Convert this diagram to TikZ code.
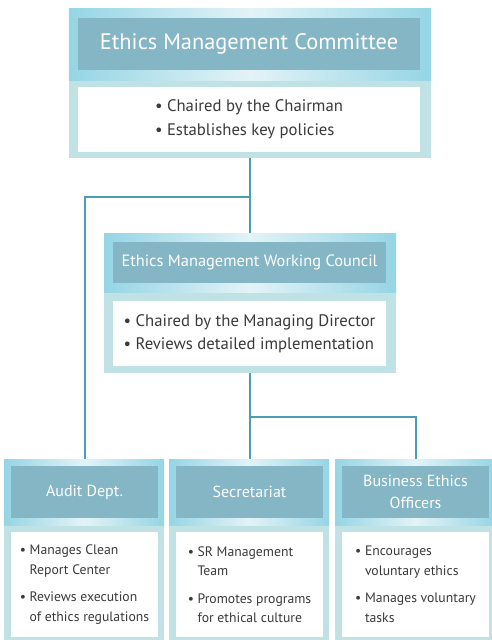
\documentclass[tikz,border=0pt]{standalone}
\usepackage{fontspec}
\setmainfont{PT Sans}
\usepackage{xcolor}
\usetikzlibrary{positioning}
\definecolor{bandedge}{HTML}{95D5E5}
\definecolor{bandmid}{HTML}{E3F3F7}
\definecolor{titlefill}{HTML}{84B6C6}
\definecolor{framefill}{HTML}{C1E2E4}
\definecolor{bodytext}{HTML}{3A3A3A}
\definecolor{linkcol}{HTML}{4A9DB3}
\newcommand{\fsz}[2]{\fontsize{#1bp}{#2bp}\selectfont}
\newcommand{\indt}{\phantom{\textbullet~}}

\begin{document}
\begin{tikzpicture}[
    x=1bp, y=-1bp,
    band/.style={rectangle, inner sep=0pt, left color=bandedge, right color=bandedge, middle color=bandmid},
    title/.style={rectangle, fill=titlefill, text=white, inner sep=0pt, align=center},
    frame/.style={rectangle, fill=framefill, inner sep=0pt},
    body/.style={rectangle, fill=white, text=bodytext, inner sep=0pt, align=left},
    link/.style={draw=linkcol, line width=2bp},
    unit/.style={minimum width=160bp},
    unit title/.style={minimum width=147bp, minimum height=52bp, font=\fsz{16}{22}},
    unit body/.style={minimum width=147bp, minimum height=105bp, font=\fsz{13.7}{19.5}},
]
    \useasboundingbox (0,0) rectangle (492,640);

    % Connectors
    \coordinate (split top) at (250,197);
    \coordinate (split low) at (250,417);
    \draw[link] (250,158) -- (250,233);
    \draw[link] (split top) -| (85,459);
    \draw[link] (250,373) -- (250,459);
    \draw[link] (split low) -| (416,459);

    % Committee
    \node[band, minimum width=362bp, minimum height=72bp] (emcband) at (250,45) {};
    \node[frame, minimum width=362bp, minimum height=77bp] (emcframe) at (250,119.5) {};
    \node[title, minimum width=342bp, minimum height=52bp, font=\fsz{22.4}{26}] (emc) at (249,44) {Ethics Management Committee};
    \node[body, minimum width=342bp, minimum height=65bp, font=\fsz{16.7}{24}] (emcbody) at (249,119.5)
        {\textbullet~Chaired by the Chairman\\ \textbullet~Establishes key policies};

    % Working council
    \node[band, minimum width=292bp, minimum height=60bp] (councilband) at (250,263) {};
    \node[frame, minimum width=292bp, minimum height=80bp] (councilframe) at (250,333) {};
    \node[title, minimum width=273bp, minimum height=41bp, font=\fsz{16.4}{20}] (council) at (249.5,262.5) {Ethics Management Working Council};
    \node[body, minimum width=273bp, minimum height=65bp, font=\fsz{16.7}{23}] (councilbody) at (249.5,333.5)
        {\textbullet~Chaired by the Managing Director\\ \textbullet~Reviews detailed implementation};

    % Bottom row
    \node[band, unit, minimum height=67bp] (auditband) at (84,492.5) {};
    \node[frame, unit, minimum height=119bp] (auditframe) at (84,585.5) {};
    \node[title, unit title] (audit) at (84.5,492) {Audit Dept.};
    \node[body, unit body] (auditbody) at (84.5,584.5)
        {\textbullet~Manages Clean\\ \indt Report Center\\[8bp] \textbullet~Reviews execution\\ \indt of ethics regulations};

    \node[band, unit, minimum height=67bp] (secrband) at (249,492.5) {};
    \node[frame, unit, minimum height=119bp] (secrframe) at (249,585.5) {};
    \node[title, unit title] (secr) at (249.5,492) {Secretariat};
    \node[body, unit body] (secrbody) at (249.5,584.5)
        {\textbullet~SR Management\\ \indt Team\\[8bp] \textbullet~Promotes programs\\ \indt for ethical culture};

    \node[band, unit, minimum height=67bp] (beoband) at (415,492.5) {};
    \node[frame, unit, minimum height=119bp] (beoframe) at (415,585.5) {};
    \node[title, unit title] (beo) at (415.5,492) {Business Ethics\\ Officers};
    \node[body, unit body] (beobody) at (415.5,584.5)
        {\textbullet~Encourages\\ \indt voluntary ethics\\[8bp] \textbullet~Manages voluntary\\ \indt tasks};
\end{tikzpicture}
\end{document}
